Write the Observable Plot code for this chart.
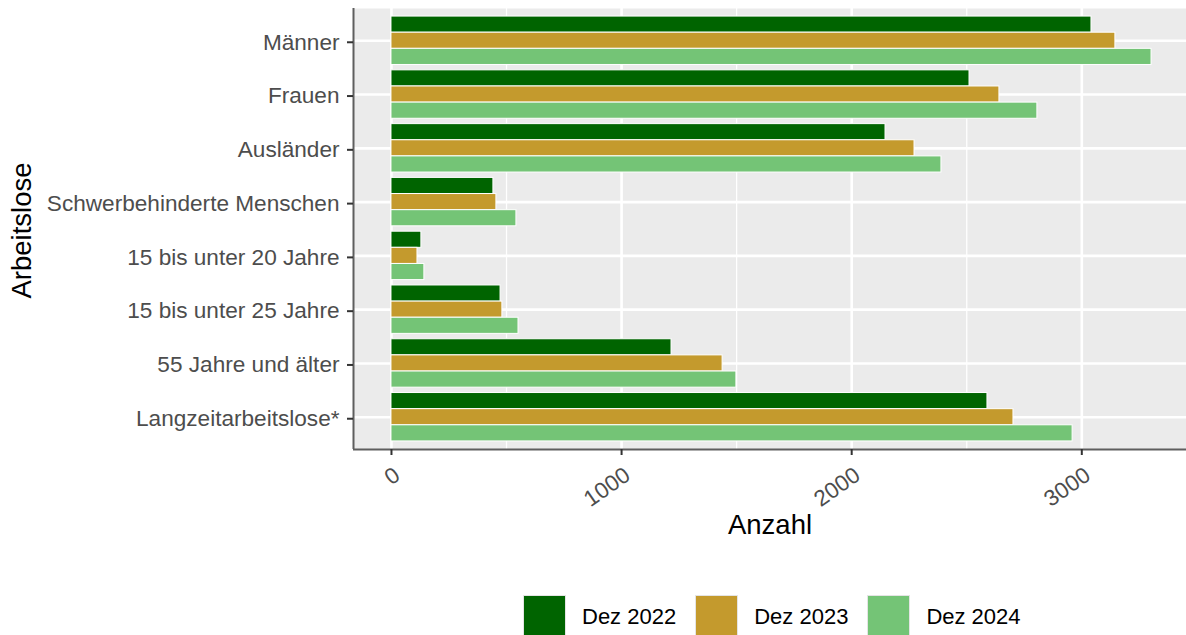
<!DOCTYPE html>
<html>
<head>
<meta charset="utf-8">
<script src="https://cdn.jsdelivr.net/npm/d3@7"></script>
<script src="https://cdn.jsdelivr.net/npm/@observablehq/plot@0.6"></script>
<style>
  body { margin: 0; background: white; font-family: "Liberation Sans", Arial, sans-serif; }
  #chart svg { display: block; }
  #legend { position: absolute; top: 595px; left: 523px; display: flex; align-items: center; }
  .item { display: flex; align-items: center; margin-right: 19px; }
  .key { width: 41px; height: 41px; border: 1px solid #E4E4E4; margin-right: 16px; }
  .lab { font-size: 22px; color: #000; }
</style>
</head>
<body>
<div id="chart"></div>
<div id="legend"></div>
<script>
const categories = ["Männer", "Frauen", "Ausländer", "Schwerbehinderte Menschen", "15 bis unter 20 Jahre", "15 bis unter 25 Jahre", "55 Jahre und älter", "Langzeitarbeitslose*"];
const years = ["Dez 2022", "Dez 2023", "Dez 2024"];
const dez2022 = [3042, 2512, 2147, 443, 130, 474, 1217, 2590];
const dez2023 = [3146, 2642, 2273, 456, 113, 482, 1439, 2703];
const dez2024 = [3303, 2807, 2390, 543, 143, 552, 1499, 2960];
const colors = ["#006400", "#C49A2D", "#74C476"];
const majorTicks = [0, 1000, 2000, 3000];
const minorTicks = [500, 1500, 2500];

const series = [dez2022, dez2023, dez2024];
const rows = [];
categories.forEach((c, i) => {
  years.forEach((y, j) => {
    rows.push({cat: c, idx: i, year: y, j, value: series[j][i]});
  });
});

const xDomain = [-165, 3455];
const yDomain = [-0.6, 7.6];
const barW = 0.3;

const plot = Plot.plot({
  width: 1186,
  height: 580,
  marginLeft: 353,
  marginRight: 0,
  marginTop: 8,
  marginBottom: 131,
  x: {domain: xDomain, axis: null},
  y: {domain: yDomain, reverse: true, axis: null},
  color: {domain: years, range: colors},
  style: {fontFamily: "Liberation Sans, Arial, sans-serif", background: "white"},
  marks: [
    Plot.frame({fill: "#EBEBEB", stroke: "none"}),
    Plot.gridX(minorTicks, {stroke: "white", strokeOpacity: 1, strokeWidth: 1.3}),
    Plot.gridX(majorTicks, {stroke: "white", strokeOpacity: 1, strokeWidth: 2.6}),
    Plot.gridY(d3.range(categories.length), {stroke: "white", strokeOpacity: 1, strokeWidth: 2.6}),
    Plot.rect(rows, {
      x1: () => 0,
      x2: "value",
      y1: d => d.idx - 0.45 + d.j * barW,
      y2: d => d.idx - 0.45 + (d.j + 1) * barW,
      fill: "year",
      stroke: "white",
      strokeWidth: 1
    }),
    Plot.ruleX([xDomain[0]], {stroke: "#5E5E5E", strokeWidth: 2}),
    Plot.ruleY([yDomain[1]], {stroke: "#5E5E5E", strokeWidth: 2}),
    Plot.axisY(d3.range(categories.length), {
      tickSize: 6, tickPadding: 8, tickFormat: i => categories[i],
      fontSize: 22.6, fill: "#4D4D4D", stroke: "#333333", strokeWidth: 2, label: null, dy: 1.5
    }),
    Plot.axisX(majorTicks, {
      tickSize: 6, tickFormat: () => "", stroke: "#333333", strokeWidth: 2, label: null
    }),
    Plot.text(majorTicks, {
      x: d => d, frameAnchor: "bottom", dy: 16, dx: 1, rotate: -35,
      textAnchor: "end", lineAnchor: "top", fontSize: 22.6, fill: "#4D4D4D",
      text: d => String(d)
    }),
    Plot.text(["Anzahl"], {
      frameAnchor: "bottom", dy: 84, fontSize: 27.5, fill: "black", text: d => d
    }),
    Plot.text(["Arbeitslose"], {
      frameAnchor: "left", dx: -331, dy: 1.5, rotate: -90, textAnchor: "middle",
      fontSize: 27.5, fill: "black", text: d => d
    })
  ]
});
document.getElementById("chart").appendChild(plot);

const legend = document.getElementById("legend");
years.forEach((y, j) => {
  const item = document.createElement("div");
  item.className = "item";
  const key = document.createElement("div");
  key.className = "key";
  key.style.background = colors[j];
  const lab = document.createElement("span");
  lab.className = "lab";
  lab.textContent = y;
  item.appendChild(key);
  item.appendChild(lab);
  legend.appendChild(item);
});
</script>
</body>
</html>
